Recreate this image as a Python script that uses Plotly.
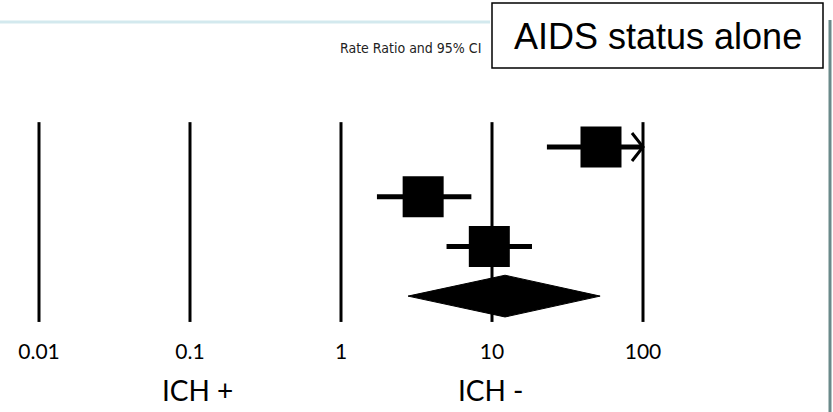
import plotly.graph_objects as go

# ---- data ----
rows = [0, 1, 2]                      # row positions of the individual studies
est = [52.7, 3.5, 9.6]                # rate ratio point estimates
lower = [23.1, 1.73, 5.0]             # lower 95% CI
upper = [100.0, 7.3, 18.4]            # upper 95% CI (first one truncated -> arrow)
truncated = [True, False, False]

pooled_row = 3
pooled_est = 12.2
pooled_lower = 2.78
pooled_upper = 52.0

tick_vals = [0.01, 0.1, 1, 10, 100]
tick_text = ["0.01", "0.1", "1", "10", "100"]

title_text = "Rate Ratio and 95% CI"
box_text = "AIDS status alone"
left_label = "ICH +"
right_label = "ICH -"

W, H = 833, 412
B = 80
PH = H - B
px_per_dec = 151.0
x0_px = 39.0
row_px = 49.7
row0_px = 147.0

fig = go.Figure()

# reference vertical lines at each decade
for v in tick_vals:
    fig.add_shape(type="line", xref="x", yref="y", x0=v, x1=v, y0=-0.5, y1=3.52,
                  line=dict(color="black", width=3), layer="below")

# CI lines
for r, lo, hi in zip(rows, lower, upper):
    fig.add_trace(go.Scatter(x=[lo, hi], y=[r, r], mode="lines",
                             line=dict(color="black", width=5), hoverinfo="skip",
                             showlegend=False))

# squares
fig.add_trace(go.Scatter(x=est, y=rows, mode="markers",
                         marker=dict(symbol="square", size=41, color="black"),
                         showlegend=False))

# open chevron arrow heads for truncated CIs
back = 10 ** (-11 / px_per_dec)
half = 14 / row_px
for r, hi, t in zip(rows, upper, truncated):
    if t:
        fig.add_trace(go.Scatter(x=[hi * back, hi, hi * back],
                                 y=[r - half, r, r + half], mode="lines",
                                 line=dict(color="black", width=3),
                                 hoverinfo="skip", showlegend=False))

# pooled diamond
fig.add_trace(go.Scatter(
    x=[pooled_lower, pooled_est, pooled_upper, pooled_est, pooled_lower],
    y=[pooled_row, pooled_row - 0.42, pooled_row, pooled_row + 0.42, pooled_row],
    mode="lines", fill="toself", fillcolor="black",
    line=dict(color="black", width=1), showlegend=False, hoverinfo="skip"))

# decorations
fig.add_shape(type="line", xref="paper", yref="paper", x0=0, x1=490 / W,
              y0=(PH - 22) / PH, y1=(PH - 22) / PH,
              line=dict(color="#d3e9ee", width=3))
fig.add_shape(type="line", xref="paper", yref="paper", x0=830 / W, x1=830 / W,
              y0=(PH - 20) / PH, y1=(PH - 414) / PH,
              line=dict(color="#6a8a8a", width=3))
fig.add_shape(type="rect", xref="paper", yref="paper", x0=492 / W, x1=823 / W,
              y0=(PH - 68) / PH, y1=(PH - 3) / PH,
              line=dict(color="black", width=1.5), fillcolor="white")

fig.add_annotation(text=box_text, xref="paper", yref="paper",
                   x=658 / W, y=(PH - 36) / PH, xanchor="center", yanchor="middle",
                   showarrow=False, font=dict(family="Liberation Sans, Arial", size=36, color="black"))
fig.add_annotation(text=title_text, xref="paper", yref="paper",
                   x=483 / W, y=(PH - 48) / PH, xanchor="right", yanchor="middle",
                   showarrow=False,
                   font=dict(family="DejaVu Sans Condensed, Lato", size=14, color="#222"))
fig.add_annotation(text=left_label, xref="paper", yref="paper",
                   x=197 / W, y=(PH - 390) / PH, xanchor="center", yanchor="middle",
                   showarrow=False, font=dict(family="Lato", size=28, color="black"))
fig.add_annotation(text=right_label, xref="paper", yref="paper",
                   x=491 / W, y=(PH - 390) / PH, xanchor="center", yanchor="middle",
                   showarrow=False, font=dict(family="Lato", size=28, color="black"))

xr = [-2 - x0_px / px_per_dec, -2 + (W - x0_px) / px_per_dec]
yr = [(PH - row0_px) / row_px, -row0_px / row_px]

fig.update_layout(
    width=W, height=H, margin=dict(l=0, r=0, t=0, b=B),
    paper_bgcolor="white", plot_bgcolor="white",
    xaxis=dict(type="log", range=xr, tickvals=tick_vals, ticktext=tick_text,
               showgrid=False, zeroline=False, showline=False, ticks="",
               ticklabelstandoff=5,
               tickfont=dict(family="Lato", size=21, color="black")),
    yaxis=dict(range=yr, showgrid=False, zeroline=False, showline=False,
               showticklabels=False),
    showlegend=False,
)

fig.write_html("out.html")
